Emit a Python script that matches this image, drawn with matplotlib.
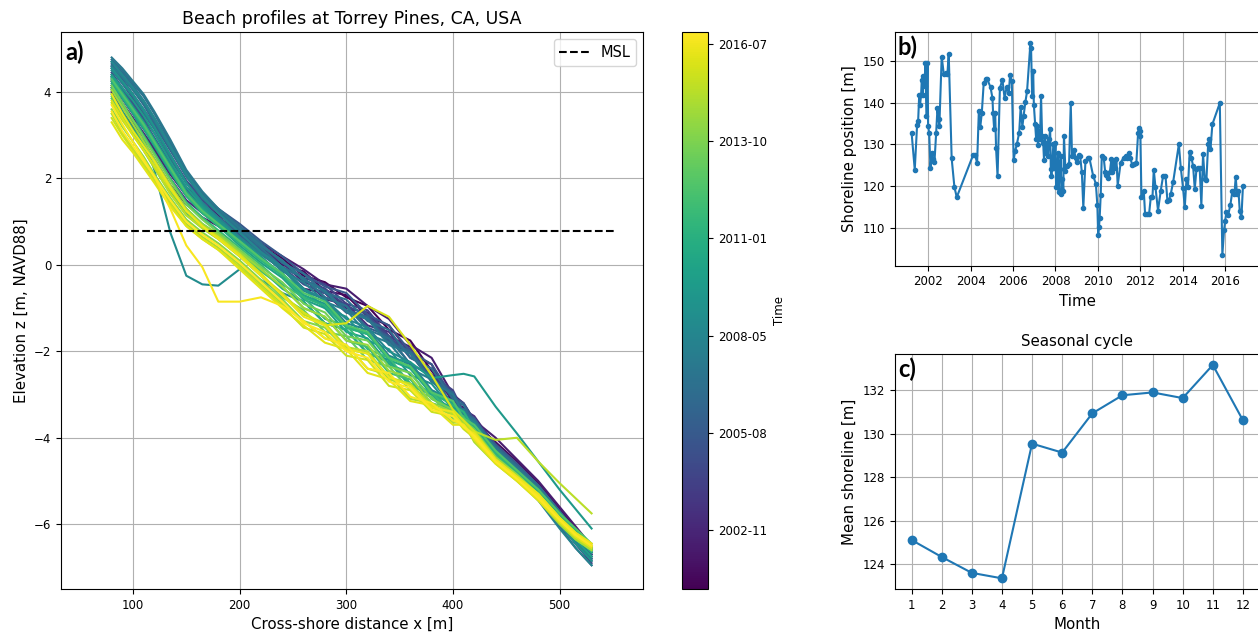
import matplotlib
matplotlib.use("Agg")
import matplotlib.pyplot as plt
import matplotlib.dates as mdates
import matplotlib.ticker as mticker
import matplotlib.colors as mcolors
import matplotlib.cm as cm
from datetime import datetime, timedelta

# ---------------- data ----------------
# cross-shore positions of the surveyed profile points [m]
x_cross = [80, 90, 100, 110, 120, 135, 150, 165, 180, 200, 220, 240, 260, 280,
           300, 320, 340, 360, 380, 400, 410, 420, 440, 460, 480, 500, 515, 530]

survey_dates = ["2001-03", "2001-08", "2002-01", "2002-06", "2002-11", "2003-04",
                "2004-03", "2004-09", "2005-02", "2005-07", "2005-12", "2006-05",
                "2006-10", "2007-02", "2007-06", "2007-10", "2008-02", "2008-06",
                "2008-10", "2009-03", "2009-08", "2010-01", "2010-06", "2010-11",
                "2011-04", "2011-09", "2012-02", "2012-07", "2013-01", "2013-07",
                "2014-01", "2014-06", "2014-11", "2015-04", "2015-08", "2015-12",
                "2016-03", "2016-06", "2016-09", "2016-11"]

prof_01 = [4.10, 3.70, 3.35, 3.00, 2.65, 2.10, 1.65, 1.30, 1.05, 0.80, 0.45, 0.15, -0.25, -0.40, -0.75, -0.95, -1.50, -1.75, -2.45, -3.10, -3.55, -3.55, -4.15, -4.65, -5.15, -5.75, -6.20, -6.70]
prof_02 = [4.25, 3.85, 3.50, 3.15, 2.80, 2.25, 1.70, 1.35, 1.10, 0.75, 0.40, 0.00, -0.15, -0.60, -0.70, -1.20, -1.40, -2.05, -2.30, -3.20, -3.30, -3.65, -4.10, -4.55, -5.05, -5.65, -6.10, -6.55]
prof_03 = [4.00, 3.55, 3.20, 2.85, 2.45, 1.85, 1.40, 1.10, 0.90, 0.60, 0.25, -0.10, -0.55, -0.65, -1.10, -1.25, -1.80, -2.05, -2.70, -3.05, -3.50, -3.60, -4.30, -4.80, -5.30, -5.90, -6.35, -6.80]
prof_04 = [4.30, 3.95, 3.60, 3.25, 2.90, 2.30, 1.80, 1.45, 1.15, 0.85, 0.50, 0.20, -0.10, -0.45, -0.55, -0.95, -1.25, -1.85, -2.15, -3.00, -3.20, -3.60, -4.00, -4.50, -5.00, -5.60, -6.05, -6.50]
prof_05 = [4.15, 3.75, 3.40, 3.05, 2.70, 2.10, 1.60, 1.25, 1.00, 0.70, 0.35, 0.05, -0.40, -0.55, -1.00, -1.10, -1.65, -1.90, -2.55, -2.95, -3.45, -3.70, -4.25, -4.75, -5.25, -5.85, -6.30, -6.75]
prof_06 = [4.05, 3.65, 3.30, 2.95, 2.60, 2.00, 1.50, 1.20, 0.95, 0.65, 0.30, -0.05, -0.30, -0.80, -0.90, -1.40, -1.55, -2.15, -2.40, -3.15, -3.35, -3.50, -4.20, -4.65, -5.20, -5.80, -6.25, -6.70]
prof_07 = [4.45, 4.10, 3.75, 3.40, 3.05, 2.45, 1.90, 1.50, 1.20, 0.85, 0.45, 0.05, -0.30, -0.45, -0.90, -1.05, -1.65, -1.95, -2.55, -2.90, -3.40, -3.55, -4.25, -4.80, -5.35, -5.95, -6.45, -6.90]
prof_08 = [4.55, 4.20, 3.85, 3.50, 3.15, 2.55, 1.95, 1.55, 1.20, 0.80, 0.45, 0.10, -0.35, -0.55, -0.95, -1.15, -1.70, -2.00, -2.60, -3.00, -3.45, -3.65, -4.35, -4.85, -5.35, -6.00, -6.45, -6.85]
prof_09 = [4.35, 3.95, 3.60, 3.25, 2.85, 2.25, 1.75, 1.40, 1.10, 0.70, 0.30, -0.05, -0.45, -0.65, -1.05, -1.20, -1.75, -2.00, -2.65, -3.00, -3.50, -3.60, -4.25, -4.70, -5.20, -5.80, -6.25, -6.65]
prof_10 = [4.60, 4.30, 3.95, 3.60, 3.25, 2.65, 2.05, 1.60, 1.30, 0.95, 0.55, 0.20, -0.20, -0.50, -0.65, -1.15, -1.40, -2.00, -2.30, -3.05, -3.20, -3.60, -4.15, -4.60, -5.10, -5.70, -6.20, -6.70]
prof_11 = [4.40, 4.05, 3.70, 3.35, 2.95, 2.35, 1.80, 1.40, 1.10, 0.75, 0.35, -0.05, -0.30, -0.75, -0.95, -1.45, -1.65, -2.30, -2.55, -3.25, -3.35, -3.75, -4.35, -4.85, -5.40, -6.05, -6.55, -6.95]
prof_12 = [4.65, 4.35, 4.05, 3.70, 3.30, 2.70, 2.05, 1.60, 1.25, 0.85, 0.45, 0.10, -0.35, -0.60, -1.05, -1.20, -1.80, -2.00, -2.65, -2.95, -3.45, -3.55, -4.25, -4.70, -5.15, -5.75, -6.20, -6.60]
prof_13 = [4.70, 4.45, 4.15, 3.80, 3.40, 2.80, 2.15, 1.65, 1.30, 0.90, 0.50, 0.05, -0.20, -0.65, -0.80, -1.30, -1.50, -2.15, -2.40, -3.10, -3.25, -3.70, -4.20, -4.65, -5.10, -5.70, -6.15, -6.55]
prof_14 = [4.75, 4.50, 4.20, 3.90, 3.50, 2.85, 2.15, 1.65, 1.25, 0.80, 0.40, -0.05, -0.30, -0.75, -0.95, -1.50, -1.70, -2.30, -2.55, -3.25, -3.35, -3.75, -4.30, -4.80, -5.30, -5.90, -6.35, -6.75]
prof_15 = [4.80, 4.55, 4.25, 3.95, 3.55, 2.90, 2.20, 1.70, 1.30, 0.85, 0.45, 0.10, -0.35, -0.60, -1.10, -1.25, -1.85, -2.05, -2.70, -3.00, -3.45, -3.60, -4.25, -4.70, -5.15, -5.75, -6.20, -6.60]
prof_16 = [4.60, 4.35, 4.05, 3.75, 3.35, 2.70, 2.05, 1.55, 1.20, 0.75, 0.30, -0.15, -0.40, -0.85, -1.05, -1.60, -1.80, -2.40, -2.65, -3.30, -3.35, -3.80, -4.40, -4.85, -5.35, -5.95, -6.40, -6.80]
prof_17 = [4.50, 4.20, 3.90, 3.55, 3.15, 2.50, 1.90, 1.45, 1.10, 0.65, 0.25, -0.10, -0.60, -0.80, -1.35, -1.50, -2.10, -2.30, -2.90, -3.15, -3.55, -3.75, -4.45, -4.95, -5.45, -6.10, -6.55, -6.95]
prof_18 = [4.70, 4.40, 4.10, 3.80, 3.40, 2.75, 2.10, 1.60, 1.20, 0.75, 0.30, -0.05, -0.55, -0.80, -1.25, -1.45, -2.00, -2.25, -2.90, -3.15, -3.50, -3.65, -4.30, -4.75, -5.20, -5.80, -6.25, -6.65]
prof_19 = [4.35, 3.95, 3.55, 2.95, 2.20, 0.75, -0.25, -0.45, -0.48, -0.10, -0.35, -0.65, -0.85, -1.35, -1.50, -2.05, -2.20, -2.75, -2.95, -3.40, -3.40, -3.85, -4.35, -4.80, -5.25, -5.85, -6.30, -6.65]
prof_20 = [4.55, 4.25, 3.95, 3.60, 3.20, 2.55, 1.90, 1.40, 1.05, 0.60, 0.20, -0.25, -0.55, -1.00, -1.20, -1.75, -1.95, -2.55, -2.75, -3.35, -3.40, -3.85, -4.40, -4.90, -5.40, -6.00, -6.45, -6.85]
prof_21 = [4.40, 4.10, 3.80, 3.45, 3.05, 2.40, 1.80, 1.35, 1.00, 0.55, 0.15, -0.20, -0.70, -0.90, -1.45, -1.60, -2.15, -2.25, -2.62, -2.55, -2.52, -2.58, -3.28, -3.90, -4.55, -5.20, -5.65, -6.10]
prof_22 = [4.20, 3.85, 3.50, 3.15, 2.75, 2.15, 1.60, 1.20, 0.90, 0.45, 0.05, -0.30, -0.80, -1.00, -1.55, -1.70, -2.30, -2.50, -3.10, -3.30, -3.60, -3.80, -4.40, -4.85, -5.30, -5.90, -6.35, -6.75]
prof_23 = [4.35, 4.00, 3.65, 3.30, 2.90, 2.30, 1.70, 1.30, 0.95, 0.55, 0.15, -0.20, -0.70, -0.95, -1.40, -1.60, -2.20, -2.40, -3.00, -3.20, -3.55, -3.75, -4.35, -4.80, -5.25, -5.85, -6.25, -6.60]
prof_24 = [3.95, 3.55, 3.15, 2.80, 2.40, 1.80, 1.30, 0.95, 0.70, 0.30, -0.10, -0.55, -0.85, -1.35, -1.50, -2.05, -2.25, -2.80, -3.00, -3.50, -3.55, -3.95, -4.45, -4.90, -5.35, -5.90, -6.30, -6.65]
prof_25 = [4.25, 3.90, 3.55, 3.20, 2.80, 2.20, 1.60, 1.20, 0.90, 0.50, 0.10, -0.25, -0.75, -0.95, -1.45, -1.60, -2.15, -2.35, -2.95, -3.25, -3.40, -3.80, -4.35, -4.80, -5.20, -5.75, -6.15, -6.50]
prof_26 = [4.10, 3.70, 3.35, 3.00, 2.60, 2.00, 1.45, 1.10, 0.80, 0.40, 0.00, -0.45, -0.75, -1.25, -1.40, -1.95, -2.15, -2.75, -2.95, -3.45, -3.50, -3.90, -4.40, -4.85, -5.30, -5.85, -6.25, -6.60]
prof_27 = [3.85, 3.45, 3.05, 2.70, 2.30, 1.70, 1.20, 0.90, 0.65, 0.25, -0.15, -0.50, -1.00, -1.20, -1.75, -1.90, -2.50, -2.65, -3.20, -3.35, -3.65, -3.90, -4.50, -4.95, -5.40, -5.95, -6.30, -6.60]
prof_28 = [4.30, 3.95, 3.60, 3.25, 2.85, 2.25, 1.65, 1.25, 0.95, 0.55, 0.15, -0.20, -0.65, -0.85, -1.40, -1.55, -2.15, -2.35, -2.95, -3.15, -3.55, -3.70, -4.30, -4.75, -5.20, -5.75, -6.10, -6.45]
prof_29 = [3.90, 3.45, 3.05, 2.65, 2.25, 1.65, 1.15, 0.85, 0.60, 0.20, -0.25, -0.75, -1.05, -1.55, -1.65, -2.20, -2.35, -2.90, -3.05, -3.55, -3.55, -4.00, -4.50, -4.90, -5.35, -5.90, -6.25, -6.55]
prof_30 = [4.15, 3.75, 3.35, 2.95, 2.55, 1.95, 1.40, 1.05, 0.75, 0.35, -0.05, -0.40, -0.90, -1.10, -1.65, -1.75, -2.35, -2.50, -3.10, -3.35, -3.60, -3.80, -4.45, -4.90, -5.30, -5.85, -6.25, -6.55]
prof_31 = [3.60, 3.20, 2.85, 2.50, 2.10, 1.55, 1.05, 0.75, 0.50, 0.10, -0.35, -0.80, -1.30, -1.45, -1.95, -2.05, -2.65, -2.75, -3.30, -3.45, -3.75, -3.95, -4.55, -4.95, -5.40, -5.95, -6.35, -6.60]
prof_32 = [4.05, 3.65, 3.25, 2.85, 2.45, 1.85, 1.30, 0.95, 0.70, 0.30, -0.10, -0.50, -1.00, -1.20, -1.75, -1.85, -2.45, -2.60, -3.20, -3.40, -3.65, -3.85, -4.45, -4.85, -5.30, -5.85, -6.20, -6.50]
prof_33 = [3.50, 3.05, 2.70, 2.35, 2.00, 1.45, 0.95, 0.65, 0.40, 0.00, -0.45, -0.90, -1.30, -1.70, -1.85, -2.40, -2.55, -3.10, -3.20, -3.65, -3.65, -4.10, -4.60, -5.00, -5.45, -6.00, -6.35, -6.60]
prof_34 = [3.75, 3.35, 3.00, 2.65, 2.25, 1.65, 1.15, 0.85, 0.60, 0.20, -0.25, -0.65, -1.15, -1.35, -1.90, -2.00, -2.60, -2.75, -3.25, -3.45, -3.70, -3.85, -4.05, -4.00, -4.55, -5.05, -5.40, -5.75]
prof_35 = [3.40, 3.00, 2.65, 2.30, 1.95, 1.40, 0.90, 0.60, 0.35, -0.05, -0.50, -0.95, -1.45, -1.60, -2.10, -2.20, -2.80, -2.90, -3.40, -3.50, -3.80, -4.00, -4.55, -4.95, -5.35, -5.90, -6.25, -6.50]
prof_36 = [3.80, 3.40, 3.00, 2.65, 2.30, 1.75, 1.25, 0.90, 0.65, 0.25, -0.20, -0.70, -1.10, -1.40, -1.35, -0.95, -1.20, -1.85, -2.55, -3.35, -3.60, -3.85, -4.50, -4.90, -5.30, -5.85, -6.20, -6.45]
prof_37 = [3.30, 2.90, 2.60, 2.25, 1.90, 1.35, 0.90, 0.60, 0.35, -0.10, -0.55, -1.00, -1.40, -1.80, -1.95, -2.50, -2.65, -3.15, -3.25, -3.70, -3.70, -4.05, -4.60, -5.00, -5.45, -5.95, -6.30, -6.55]
prof_38 = [3.95, 3.50, 3.10, 2.75, 2.40, 1.80, 1.25, 0.90, 0.60, 0.20, -0.25, -0.70, -1.20, -1.40, -1.95, -2.05, -2.60, -2.80, -3.30, -3.40, -3.75, -3.90, -4.50, -4.90, -5.30, -5.85, -6.20, -6.45]
prof_39 = [3.70, 3.25, 2.85, 2.45, 2.05, 1.30, 0.45, -0.05, -0.85, -0.85, -0.75, -0.95, -1.30, -1.70, -1.85, -2.40, -2.50, -3.05, -3.20, -3.60, -3.70, -4.00, -4.55, -4.95, -5.35, -5.90, -6.25, -6.50]
prof_40 = [3.55, 3.10, 2.75, 2.40, 2.05, 1.50, 1.00, 0.70, 0.45, 0.05, -0.40, -0.85, -1.35, -1.55, -2.00, -2.15, -2.70, -2.85, -3.35, -3.50, -3.75, -3.95, -4.55, -4.95, -5.40, -5.90, -6.25, -6.50]

profiles = [prof_01, prof_02, prof_03, prof_04, prof_05, prof_06, prof_07, prof_08,
            prof_09, prof_10, prof_11, prof_12, prof_13, prof_14, prof_15, prof_16,
            prof_17, prof_18, prof_19, prof_20, prof_21, prof_22, prof_23, prof_24,
            prof_25, prof_26, prof_27, prof_28, prof_29, prof_30, prof_31, prof_32,
            prof_33, prof_34, prof_35, prof_36, prof_37, prof_38, prof_39, prof_40]

msl = 0.774
msl_x = [57, 553]

# shoreline position time series (decimal year, m)
shore_t = [2001.22, 2001.37, 2001.48, 2001.53, 2001.58, 2001.62, 2001.67, 2001.70, 2001.75, 2001.78,
           2001.83, 2001.87, 2001.92, 2001.97, 2002.00, 2002.05, 2002.11, 2002.17, 2002.24, 2002.30,
           2002.38, 2002.44, 2002.49, 2002.53, 2002.64, 2002.74, 2002.83, 2002.91, 2002.97, 2003.11,
           2003.24, 2003.35, 2004.12, 2004.21, 2004.31, 2004.39, 2004.46, 2004.53, 2004.62, 2004.72,
           2004.79, 2004.94, 2005.03, 2005.06, 2005.11, 2005.16, 2005.20, 2005.27, 2005.38, 2005.50,
           2005.60, 2005.70, 2005.80, 2005.86, 2005.94, 2006.03, 2006.10, 2006.18, 2006.29, 2006.36,
           2006.44, 2006.50, 2006.58, 2006.66, 2006.82, 2006.85, 2006.90, 2006.95, 2006.98, 2007.04,
           2007.09, 2007.13, 2007.18, 2007.23, 2007.27, 2007.32, 2007.37, 2007.42, 2007.46, 2007.51,
           2007.56, 2007.60, 2007.65, 2007.70, 2007.75, 2007.78, 2007.81, 2007.86, 2007.90, 2007.95,
           2008.00, 2008.03, 2008.08, 2008.12, 2008.15, 2008.20, 2008.25, 2008.28, 2008.33, 2008.37,
           2008.40, 2008.47, 2008.55, 2008.64, 2008.72, 2008.78, 2008.88, 2008.95, 2009.02, 2009.10,
           2009.16, 2009.24, 2009.31, 2009.41, 2009.52, 2009.60, 2009.77, 2009.90, 2009.97, 2010.01,
           2010.05, 2010.08, 2010.13, 2010.18, 2010.27, 2010.34, 2010.40, 2010.48, 2010.56, 2010.63,
           2010.68, 2010.74, 2010.81, 2010.87, 2010.93, 2011.07, 2011.21, 2011.31, 2011.39, 2011.47,
           2011.53, 2011.62, 2011.72, 2011.81, 2011.89, 2011.92, 2011.97, 2012.00, 2012.05, 2012.16,
           2012.22, 2012.31, 2012.41, 2012.49, 2012.57, 2012.63, 2012.71, 2012.83, 2012.96, 2013.07,
           2013.18, 2013.27, 2013.35, 2013.43, 2013.54, 2013.81, 2013.90, 2014.01, 2014.09, 2014.17,
           2014.24, 2014.32, 2014.40, 2014.48, 2014.56, 2014.64, 2014.72, 2014.79, 2014.87, 2014.95,
           2015.03, 2015.11, 2015.19, 2015.24, 2015.30, 2015.39, 2015.74, 2015.86, 2015.94, 2015.99,
           2016.05, 2016.14, 2016.24, 2016.33, 2016.43, 2016.49, 2016.55, 2016.62, 2016.68, 2016.76,
           2016.83]
shore_x = [132.8, 123.9, 134.6, 135.6, 141.9, 139.5, 141.9, 145.5, 141.9, 146.3,
           143.9, 149.4, 136.7, 149.4, 134.4, 132.6, 124.4, 128.0, 126.4, 125.8,
           132.8, 138.6, 136.1, 134.5, 151.0, 146.8, 147.2, 146.9, 151.7, 126.6,
           119.7, 117.3, 127.4, 127.4, 125.6, 137.9, 134.2, 137.5, 144.7, 145.6,
           145.6, 143.7, 141.1, 137.5, 133.7, 137.5, 129.0, 122.3, 143.5, 145.5,
           141.1, 143.7, 142.3, 146.7, 145.1, 126.3, 128.4, 130.0, 132.8, 139.0,
           134.2, 136.9, 140.1, 142.7, 154.4, 153.0, 141.5, 147.5, 139.5, 134.8,
           131.2, 134.4, 129.8, 133.2, 131.2, 141.7, 132.0, 130.4, 126.3, 132.0,
           128.0, 130.4, 127.2, 131.2, 133.6, 124.0, 122.5, 126.8, 130.0, 124.4,
           130.4, 119.7, 122.1, 128.0, 118.5, 124.0, 127.2, 118.1, 121.7, 118.9,
           132.1, 123.7, 124.8, 125.2, 139.8, 127.1, 128.6, 126.6, 125.8, 127.4,
           127.2, 123.3, 114.8, 126.0, 126.6, 126.6, 122.5, 120.5, 115.5, 108.2,
           110.2, 112.3, 117.9, 127.1, 126.8, 123.4, 122.6, 121.8, 123.3, 126.4,
           123.4, 126.0, 124.4, 126.4, 120.1, 125.6, 126.8, 127.1, 126.8, 128.0,
           126.6, 125.0, 125.2, 125.6, 132.6, 134.0, 133.3, 132.1, 117.3, 118.9,
           113.3, 113.3, 113.3, 117.3, 117.3, 123.9, 119.7, 114.1, 118.9, 122.5,
           122.5, 116.5, 116.7, 118.1, 120.9, 130.0, 124.4, 119.4, 114.9, 121.7,
           119.7, 128.2, 126.8, 124.8, 119.3, 124.0, 124.4, 124.4, 115.3, 127.6,
           121.7, 121.5, 130.0, 131.3, 128.8, 134.8, 139.9, 103.4, 109.4, 111.5,
           113.7, 113.1, 115.5, 118.7, 118.1, 122.1, 118.1, 118.9, 113.9, 112.5,
           119.9]

months = [1, 2, 3, 4, 5, 6, 7, 8, 9, 10, 11, 12]
monthly_mean = [125.12, 124.34, 123.61, 123.36, 129.54, 129.13,
                130.93, 131.76, 131.89, 131.63, 133.15, 130.61]


def decyear(y):
    yr = int(y)
    return datetime(yr, 1, 1) + timedelta(days=(y - yr) * 365.25)


shore_dates = [decyear(t) for t in shore_t]
prof_dates = [datetime(int(d[:4]), int(d[5:]), 15) for d in survey_dates]

# ---------------- figure ----------------
W, H = 1258, 632
fig = plt.figure(figsize=(W / 100, H / 100), dpi=100)


def box(l, t, r, b):
    return [l / W, 1 - b / H, (r - l) / W, (b - t) / H]


ax1 = fig.add_axes(box(61, 32, 643.3, 589))
cax = fig.add_axes(box(681.7, 32, 708.3, 589))
ax2 = fig.add_axes(box(895, 32, 1259.5, 265.7))
ax3 = fig.add_axes(box(895, 354.3, 1259.5, 589))

tick_fs = 8.5
label_fs = 10.8

cmap = plt.get_cmap("viridis")
norm = mcolors.Normalize(vmin=mdates.date2num(shore_dates[0]) - 10,
                         vmax=mdates.date2num(shore_dates[-1]) + 20)

for d, z in zip(prof_dates, profiles):
    ax1.plot(x_cross, z, color=cmap(norm(mdates.date2num(d))), lw=1.5)

ax1.plot(msl_x, [msl, msl], "k--", lw=1.5, label="MSL")
ax1.set_xlim(32.5, 578.5)
ax1.set_ylim(-7.5, 5.39)
ax1.grid(True)
ax1.legend(loc="upper right", fontsize=10.5)
ax1.set_title("Beach profiles at Torrey Pines, CA, USA", fontsize=12.5)
ax1.set_xlabel("Cross-shore distance x [m]", fontsize=label_fs)
ax1.set_ylabel("Elevation z [m, NAVD88]", fontsize=label_fs)
ax1.tick_params(labelsize=tick_fs)
ax1.text(0.008, 0.985, "a)", transform=ax1.transAxes, ha="left", va="top",
         fontsize=17, fontweight="bold", family="Lato")

sm = cm.ScalarMappable(norm=norm, cmap=cmap)
cb = fig.colorbar(sm, cax=cax, ticks=mticker.MultipleLocator(1000),
                  format=mdates.DateFormatter("%Y-%m"))
cb.ax.tick_params(labelsize=tick_fs)
cb.set_label("Time", fontsize=tick_fs)

ax2.plot(shore_dates, shore_x, marker=".", ms=6, lw=1.5, color="C0")
ax2.xaxis.set_major_locator(mdates.YearLocator(2))
ax2.xaxis.set_major_formatter(mdates.DateFormatter("%Y"))
ax2.grid(True)
ax2.set_xlabel("Time", fontsize=label_fs)
ax2.set_ylabel("Shoreline position [m]", fontsize=label_fs)
ax2.tick_params(labelsize=tick_fs)
ax2.text(0.008, 0.985, "b)", transform=ax2.transAxes, ha="left", va="top",
         fontsize=17, fontweight="bold", family="Lato")

ax3.plot(months, monthly_mean, marker="o", lw=1.5, color="C0")
ax3.set_xticks(months)
ax3.grid(True)
ax3.set_title("Seasonal cycle", fontsize=10.8)
ax3.set_xlabel("Month", fontsize=label_fs)
ax3.set_ylabel("Mean shoreline [m]", fontsize=label_fs)
ax3.tick_params(labelsize=tick_fs)
ax3.text(0.008, 0.985, "c)", transform=ax3.transAxes, ha="left", va="top",
         fontsize=17, fontweight="bold", family="Lato")

fig.savefig("out.png", dpi=100)
